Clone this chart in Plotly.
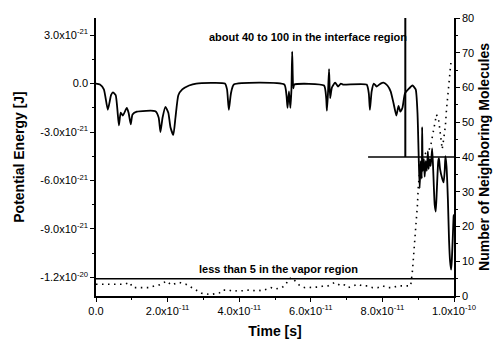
import plotly.graph_objects as go

# ---------------- data (time in 1e-11 s, energy in 1e-21 J) ----------------
TIME_UNIT = 1e-11
ENERGY_UNIT = 1e-21

pe_time = [0.00, 0.11, 0.22, 0.33, 0.42, 0.47, 0.55, 0.64, 0.69, 0.75, 0.86, 0.91, 0.97,
           1.02, 1.14, 1.66, 1.75, 1.80, 1.86, 1.94, 2.02, 2.08, 2.16, 2.22, 2.30, 2.41,
           2.60, 2.80, 3.60, 3.66, 3.71, 3.77, 3.85, 5.26, 5.32, 5.35, 5.39, 5.43, 5.46,
           5.48, 5.51, 5.54, 6.37, 6.43, 6.45, 6.48, 6.51, 6.54, 6.59, 6.68, 6.76, 6.84,
           6.90, 7.56, 7.62, 7.65, 7.70, 7.76, 7.84, 7.95, 8.03, 8.14, 8.23, 8.31, 8.39,
           8.45, 8.50, 8.56, 8.63, 8.72, 8.84, 8.93, 8.98, 9.01, 9.04, 9.07, 9.10, 9.11,
           9.13, 9.16, 9.18, 9.21, 9.24, 9.27, 9.29, 9.32, 9.35, 9.39, 9.42, 9.46, 9.49,
           9.52, 9.56, 9.58, 9.61, 9.67, 9.71, 9.74, 9.76, 9.79, 9.83, 9.86, 9.89, 9.92,
           9.94, 9.97, 9.99, 10.0]
pe_energy = [0.00, -0.06, -0.36, -1.62, -0.72, -0.54, -0.72, -2.58, -1.80, -1.98, -1.50, -1.80, -2.52,
             -1.92, -1.74, -1.71, -2.10, -3.00, -2.10, -1.44, -1.80, -2.70, -3.18, -2.10, -0.72, -0.36,
             -0.12, 0.00, 0.00, -0.36, -1.62, -0.60, -0.06, -0.06, -0.72, -1.50, -0.48, -1.50, -0.30,
             1.98, -0.30, -0.06, -0.12, -0.90, -1.68, -0.60, 0.90, -0.90, -0.24, 0.06, -0.18, 0.00,
             -0.06, -0.06, -0.60, -1.62, -0.48, 0.00, -0.18, 0.00, 0.06, -0.12, -0.48, -1.20, -1.98,
             -1.38, -1.74, -1.50, -0.60, -0.36, -0.12, -0.36, -1.80, -4.20, -6.48, -4.80, -5.88, -2.70,
             -5.40, -4.68, -5.76, -4.80, -5.40, -4.20, -5.28, -4.68, -5.10, -4.02, -5.40, -7.50, -7.92,
             -6.60, -4.80, -4.62, -5.28, -5.88, -6.12, -5.40, -4.50, -5.10, -7.20, -9.60, -10.98, -11.52,
             -10.92, -9.30, -8.22, -8.10]

nb_time = [0.00, 0.16, 0.30, 0.46, 0.62, 0.80, 0.94, 1.03, 1.17, 1.36, 1.48, 1.63, 1.77, 1.88,
           1.98, 2.10, 2.23, 2.33, 2.51, 2.60, 2.70, 2.79, 2.95, 3.20, 3.45, 3.53, 3.71, 3.82,
           3.94, 4.08, 4.25, 4.36, 4.50, 4.63, 4.82, 4.89, 5.00, 5.19, 5.30, 5.37, 5.47, 5.60,
           5.70, 5.84, 5.97, 6.11, 6.25, 6.34, 6.48, 6.57, 6.67, 6.76, 6.85, 6.94, 7.04, 7.17,
           7.31, 7.45, 7.59, 7.73, 7.87, 8.01, 8.14, 8.28, 8.42, 8.56, 8.70, 8.79, 8.84, 8.88,
           8.91, 8.95, 8.98, 9.00, 9.02, 9.05, 9.10, 9.20, 9.30, 9.35, 9.39, 9.44, 9.48, 9.51,
           9.57, 9.60, 9.62, 9.67, 9.71, 9.76, 9.79, 9.81, 9.83, 9.85, 9.88, 9.90, 9.92]
nb_count = [3.4, 3.4, 3.4, 3.4, 3.4, 3.4, 3.9, 2.4, 2.4, 2.4, 2.4, 2.9, 3.2, 3.8,
            4.3, 3.2, 3.6, 3.9, 3.4, 2.9, 2.4, 1.7, 0.8, 0.4, 0.9, 1.7, 1.7, 1.3,
            1.5, 1.5, 1.7, 1.5, 1.7, 1.5, 2.0, 2.4, 2.0, 2.4, 3.2, 4.8, 5.3, 3.9,
            2.9, 2.4, 2.4, 2.4, 2.6, 2.9, 2.9, 3.4, 3.9, 3.4, 2.9, 3.2, 2.4, 2.9,
            3.4, 2.9, 2.9, 2.4, 2.4, 2.9, 2.4, 2.4, 2.9, 2.9, 2.9, 2.9, 7.3, 12.3,
            17.0, 21.7, 26.4, 31.1, 33.4, 37.0, 40.0, 41.0, 42.0, 43.3, 45.6, 48.0, 50.3, 52.2,
            50.8, 48.5, 46.0, 42.3, 45.0, 49.0, 53.6, 56.4, 58.3, 61.1, 63.5, 65.8, 67.7]

x_ticks = [0, 2, 4, 6, 8, 10]
x_ticktext = ["0.0", "2.0x10<sup>-11</sup>", "4.0x10<sup>-11</sup>", "6.0x10<sup>-11</sup>",
              "8.0x10<sup>-11</sup>", "1.0x10<sup>-10</sup>"]
y_ticks = [3, 0, -3, -6, -9, -12]
y_ticktext = ["3.0x10<sup>-21</sup>", "0.0", "-3.0x10<sup>-21</sup>", "-6.0x10<sup>-21</sup>",
              "-9.0x10<sup>-21</sup>", "-1.2x10<sup>-20</sup>"]

vapor_level = 5
interface_level = 40
interface_line_start = 7.6
interface_marker_time = 8.64

FONT = "Liberation Sans, Arial, sans-serif"

fig = go.Figure()
fig.add_trace(go.Scatter(
    x=[t * TIME_UNIT for t in pe_time], y=[e * ENERGY_UNIT for e in pe_energy],
    mode="lines", line=dict(color="black", width=1.8, shape="spline", smoothing=0.5),
    yaxis="y", showlegend=False))
fig.add_trace(go.Scatter(
    x=[t * TIME_UNIT for t in nb_time], y=nb_count,
    mode="lines", line=dict(color="black", width=1.6, dash="1.5px,4.5px"),
    yaxis="y2", showlegend=False))

# reference lines
fig.add_shape(type="line", xref="x", yref="y2", x0=0, x1=10 * TIME_UNIT,
              y0=vapor_level, y1=vapor_level, line=dict(color="black", width=1.5))
fig.add_shape(type="line", xref="x", yref="y2", x0=interface_line_start * TIME_UNIT, x1=10 * TIME_UNIT,
              y0=interface_level, y1=interface_level, line=dict(color="black", width=1.5))
fig.add_shape(type="line", xref="x", yref="y2", x0=interface_marker_time * TIME_UNIT,
              x1=interface_marker_time * TIME_UNIT, y0=interface_level, y1=80,
              line=dict(color="black", width=2))

fig.add_annotation(x=5.93 * TIME_UNIT, y=74.4, xref="x", yref="y2",
                   text="<b>about 40 to 100 in the interface region</b>", showarrow=False,
                   font=dict(family=FONT, size=11, color="black"))
fig.add_annotation(x=5.1 * TIME_UNIT, y=7.9, xref="x", yref="y2",
                   text="<b>less than 5 in the vapor region</b>", showarrow=False,
                   font=dict(family=FONT, size=11, color="black"))

axis_common = dict(showline=True, linecolor="black", linewidth=1.5, showgrid=False,
                   zeroline=False, ticks="outside", ticklen=4, tickwidth=1.2, tickcolor="black",
                   tickfont=dict(family=FONT, size=11, color="black"))

fig.update_layout(
    width=502, height=349, margin=dict(l=96, r=45, t=13, b=52),
    paper_bgcolor="white", plot_bgcolor="white",
    xaxis=dict(range=[0, 10 * TIME_UNIT], tickmode="array",
               tickvals=[v * TIME_UNIT for v in x_ticks], ticktext=x_ticktext,
               minor=dict(tickvals=[v * TIME_UNIT for v in [1, 3, 5, 7, 9]], ticklen=2,
                          ticks="outside", tickcolor="black"),
               title=dict(text="<b>Time [s]</b>", font=dict(family=FONT, size=14, color="black"),
                          standoff=10),
               **axis_common),
    xaxis2=dict(range=[0, 10 * TIME_UNIT], overlaying="x", side="top", anchor="y",
                showline=True, linecolor="black", linewidth=1.5, showgrid=False, zeroline=False,
                ticks="inside", ticklen=4, tickcolor="black", showticklabels=False,
                tickmode="array", tickvals=[v * TIME_UNIT for v in x_ticks]),
    yaxis=dict(range=[-13.15 * ENERGY_UNIT, 4.06 * ENERGY_UNIT], tickmode="array",
               tickvals=[v * ENERGY_UNIT for v in y_ticks], ticktext=y_ticktext,
               minor=dict(tickvals=[v * ENERGY_UNIT for v in [1.5, -1.5, -4.5, -7.5, -10.5]],
                          ticklen=2, ticks="outside", tickcolor="black"),
               title=dict(text="<b>Potential Energy [J]</b>",
                          font=dict(family=FONT, size=14, color="black"), standoff=12),
               **axis_common),
    yaxis2=dict(range=[0, 80], overlaying="y", side="right", anchor="x", tickmode="linear",
                tick0=0, dtick=10,
                minor=dict(dtick=5, ticklen=2, ticks="outside", tickcolor="black"),
                title=dict(text="<b>Number of Neighboring Molecules</b>",
                           font=dict(family=FONT, size=14, color="black"), standoff=6),
                **axis_common),
)

fig.write_html("out.html")
